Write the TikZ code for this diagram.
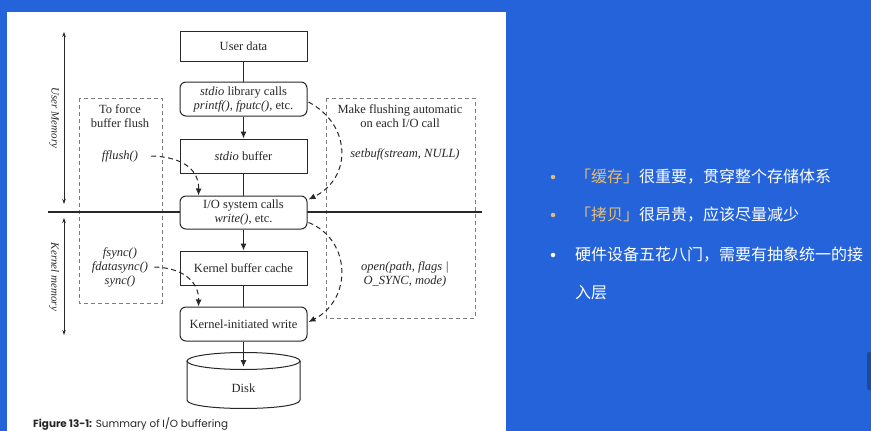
\documentclass[tikz,border=0pt]{standalone}
\usepackage{fontspec}
\setmainfont{Liberation Serif}
\newfontfamily\cjk{Noto Sans CJK SC}
\newfontfamily\capfont{Poppins}
\usetikzlibrary{arrows.meta,calc}
\definecolor{bgblue}{RGB}{36,99,217}
\definecolor{tabblue}{RGB}{30,72,160}
\definecolor{gold}{RGB}{230,188,112}
\definecolor{dashgray}{RGB}{125,125,125}
\definecolor{ink}{RGB}{40,40,40}
\begin{document}
\begin{tikzpicture}[x=1pt,y=-1pt,
  box/.style={draw=ink, line width=1pt, fill=white, minimum width=127pt, minimum height=34pt, inner sep=0pt, align=center, font=\fontsize{12.5}{14}\selectfont, text=ink},
  rbox/.style={box, rounded corners=6pt},
  dbox/.style={draw=dashgray, dash pattern=on 4pt off 3pt, line width=0.8pt},
  flow/.style={draw=ink, line width=1pt},
  flowarrow/.style={flow, -{Latex[length=7pt,width=6pt]}},
  dasharrow/.style={draw=ink, line width=1pt, dash pattern=on 5pt off 3.5pt, -{Latex[length=7pt,width=6pt]}},
  memarrow/.style={draw=ink, line width=0.7pt, {Stealth[length=5pt,width=3.5pt]}-{Stealth[length=5pt,width=3.5pt]}},
  lbl/.style={font=\fontsize{12.5}{14}\selectfont, text=ink, align=center, inner sep=2pt},
  ilbl/.style={lbl, font=\itshape\fontsize{12.5}{14}\selectfont},
  memlbl/.style={font=\itshape\fontsize{11}{12}\selectfont, text=ink, rotate=-90, inner sep=0pt},
  cjktext/.style={font=\cjk\fontsize{16}{18}\selectfont, text=white, anchor=west, inner sep=0pt},
  bullet/.style={circle, fill=#1, inner sep=0pt, minimum size=4.5pt}
]
\useasboundingbox (0,0) rectangle (871,431);
\fill[bgblue] (0,0) rectangle (871,431);
\fill[white] (7,12) rectangle (506,431);
\fill[tabblue, rounded corners=2pt] (867,352) rectangle (875,390);

% dashed side boxes
\draw[dbox] (79,98) rectangle (162,303);
\draw[dbox] (326,98) rectangle (475,318);

% separator line
\coordinate (sepL) at (48,212);
\coordinate (sepR) at (482,212);
\draw[ink, line width=1.8pt] (sepL) -- (sepR);

% memory arrows
\coordinate (um1) at (64,32);
\coordinate (um2) at (64,204);
\coordinate (km1) at (64,218);
\coordinate (km2) at (64,335);
\draw[memarrow] (um1) -- (um2);
\draw[memarrow] (km1) -- (km2);
\node[memlbl] (uml) at (54,118) {User Memory};
\node[memlbl] (kml) at (54,277) {Kernel memory};

% main boxes
\node[box, minimum height=30pt] (ud) at (243.5,46) {User data};
\node[rbox] (lib) at (243.5,99) {\textit{stdio} library calls\\\textit{printf(), fputc()}, etc.};
\node[box] (sbuf) at (243.5,156) {\textit{stdio} buffer};
\node[rbox, minimum height=33pt] (io) at (243.5,212.5) {I/O system calls\\\textit{write()}, etc.};
\node[box] (kbc) at (243.5,268) {Kernel buffer cache};
\node[rbox] (kiw) at (243.5,324) {Kernel-initiated write};

% disk
\draw[ink, line width=1pt, fill=white] (187,361) -- (187,400) .. controls (187,411.3) and (300,411.3) .. (300,400) -- (300,361);
\draw[ink, line width=1pt, fill=white] (243.5,361) ellipse [x radius=56.5, y radius=8.5];
\node[lbl] (disk) at (243.5,388) {Disk};
\coordinate (disktop) at (243.5,367);

% solid connectors
\draw[flow] (ud) -- (lib);
\draw[flowarrow] (lib) -- (sbuf);
\draw[flow] (sbuf) -- (io);
\draw[flowarrow] (io) -- (kbc);
\draw[flow] (kbc) -- (kiw);
\draw[flowarrow] (kiw) -- (disktop);

% side texts
\node[lbl] (force) at (120,116) {To force\\buffer flush};
\node[ilbl] (ffl) at (120,156) {fflush()};
\node[ilbl] (syncs) at (120,267) {fsync()\\fdatasync()\\sync()};
\node[lbl] (auto) at (400,116) {Make flushing automatic\\on each I/O call};
\node[ilbl] (setbuf) at (405,154) {setbuf(stream, NULL)};
\node[ilbl] (open) at (405,274) {open(path, flags |\\O\_SYNC, mode)};

% dashed arrows
\draw[dasharrow] ($(ffl.east)+(11,0)$) .. controls (186,157) and (199,172) .. ($(io.north west)+(19,0)$);
\draw[dasharrow] ($(syncs.east)+(4,0)$) .. controls (186,268) and (199,284) .. ($(kiw.north west)+(19,0)$);
\draw[dasharrow] ($(lib.east)+(1,3)$) .. controls (352,125) and (352,178) .. ($(io.north east)+(1,4)$);
\draw[dasharrow] ($(io.south east)+(1,-7)$) .. controls (352,240) and (352,300) .. ($(kiw.east)+(1,-2)$);

% caption
\node[anchor=base west, inner sep=0pt, text=black!85, font=\capfont\fontsize{10.4}{12}\selectfont] (cap) at (33,427) {\textbf{Figure 13-1:} Summary of I/O buffering};

% right side bullets
\node[bullet=gold] (b1) at (553,177) {};
\node[bullet=gold] (b2) at (553,215) {};
\node[bullet=white] (b3) at (553,255) {};
\node[cjktext] (t1) at (575,177) {{\color{gold}「缓存」}很重要，贯穿整个存储体系};
\node[cjktext] (t2) at (575,215) {{\color{gold}「拷贝」}很昂贵，应该尽量减少};
\node[cjktext] (t3) at (575,255) {硬件设备五花八门，需要有抽象统一的接};
\node[cjktext] (t3b) at (575,293) {入层};
\end{tikzpicture}
\end{document}
